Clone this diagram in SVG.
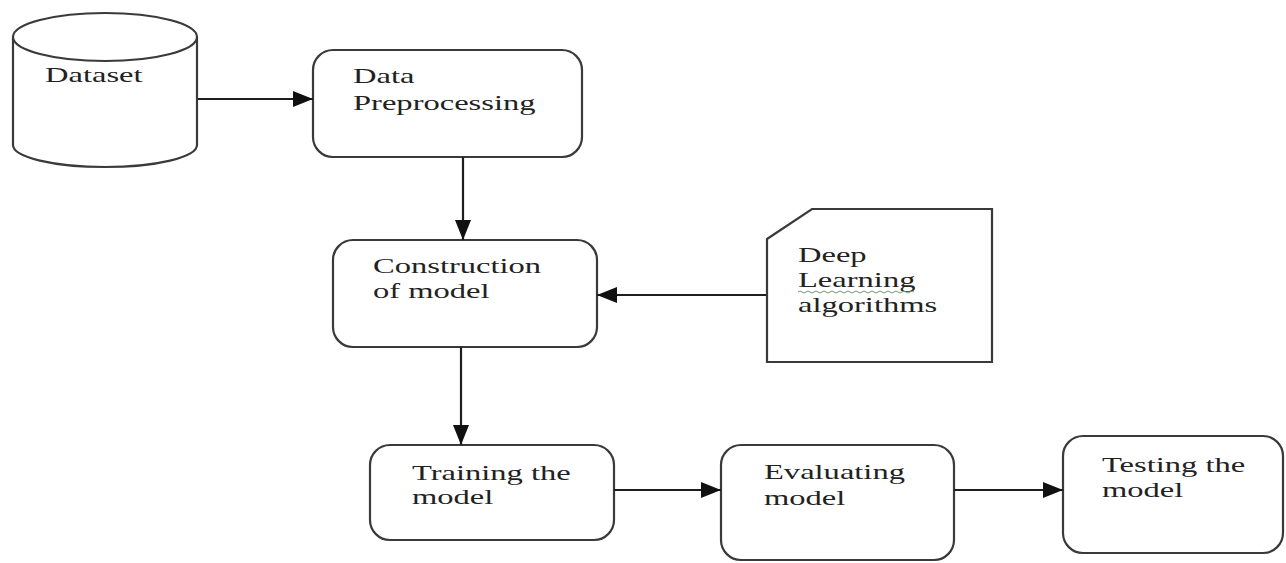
<svg xmlns="http://www.w3.org/2000/svg" width="1286" height="563" viewBox="0 0 1286 563">
<style>
.shape{fill:#fff;stroke:#3a3a3a;stroke-width:2.2}
.conn{fill:none;stroke:#1e1e1e;stroke-width:2.2}
.lbl{font-family:"Liberation Serif","Times New Roman",serif;font-size:21px;fill:#222}
</style>
<defs>
<marker id="ah" markerUnits="userSpaceOnUse" markerWidth="20" markerHeight="16" refX="20" refY="8" orient="auto">
<path d="M0,0 L20,8 L0,16 Z" fill="#111"/>
</marker>
</defs>
<rect width="1286" height="563" fill="#fff"/>
<g id="dataset">
<path class="shape" d="M13,37 L13,145 A92,22 0 0 0 197,145 L197,37"/>
<ellipse class="shape" cx="105" cy="37" rx="92" ry="24"/>
<text class="lbl" transform="matrix(1.55 0 0 1 45 82)">Dataset</text>
</g>
<g id="preprocessing">
<rect class="shape" x="313" y="50" width="269" height="107" rx="20"/>
<text class="lbl" transform="matrix(1.55 0 0 1 353 83)">Data</text>
<text class="lbl" transform="matrix(1.55 0 0 1 353 110)">Preprocessing</text>
</g>
<g id="construction">
<rect class="shape" x="333" y="240" width="264" height="107" rx="20"/>
<text class="lbl" transform="matrix(1.55 0 0 1 373 273)">Construction</text>
<text class="lbl" transform="matrix(1.55 0 0 1 373 298)">of model</text>
</g>
<g id="deeplearning">
<path class="shape" d="M767,239 L812,209 L992,209 L992,362 L767,362 Z"/>
<text class="lbl" transform="matrix(1.55 0 0 1 798 262)">Deep</text>
<text class="lbl" transform="matrix(1.55 0 0 1 798 287)">Learning</text>
<path d="M798,292 q2,-2 4,0 t4,0 t4,0 t4,0 t4,0 t4,0 t4,0 t4,0 t4,0 t4,0 t4,0 t4,0 t4,0 t4,0 t4,0 t4,0 t4,0 t4,0 t4,0 t4,0 t4,0 t4,0 t4,0 t4,0 t4,0 t4,0 t4,0 t4,0 t4,0" fill="none" stroke="#6f9f6f" stroke-width="1"/>
<text class="lbl" transform="matrix(1.55 0 0 1 798 312)">algorithms</text>
</g>
<g id="training">
<rect class="shape" x="370" y="445" width="244" height="95" rx="20"/>
<text class="lbl" transform="matrix(1.55 0 0 1 412 480)">Training the</text>
<text class="lbl" transform="matrix(1.55 0 0 1 412 504)">model</text>
</g>
<g id="evaluating">
<rect class="shape" x="721" y="445" width="233" height="115" rx="20"/>
<text class="lbl" transform="matrix(1.55 0 0 1 764 479)">Evaluating</text>
<text class="lbl" transform="matrix(1.55 0 0 1 764 505)">model</text>
</g>
<g id="testing">
<rect class="shape" x="1063" y="436" width="220" height="117" rx="20"/>
<text class="lbl" transform="matrix(1.55 0 0 1 1102 472)">Testing the</text>
<text class="lbl" transform="matrix(1.55 0 0 1 1102 497)">model</text>
</g>
<g id="connectors">
<line class="conn" x1="198" y1="99" x2="313" y2="99" marker-end="url(#ah)"/>
<line class="conn" x1="463" y1="157" x2="463" y2="240" marker-end="url(#ah)"/>
<line class="conn" x1="766" y1="295" x2="597" y2="295" marker-end="url(#ah)"/>
<line class="conn" x1="461" y1="347" x2="461" y2="445" marker-end="url(#ah)"/>
<line class="conn" x1="614" y1="490" x2="721" y2="490" marker-end="url(#ah)"/>
<line class="conn" x1="954" y1="490" x2="1063" y2="490" marker-end="url(#ah)"/>
</g>
</svg>
